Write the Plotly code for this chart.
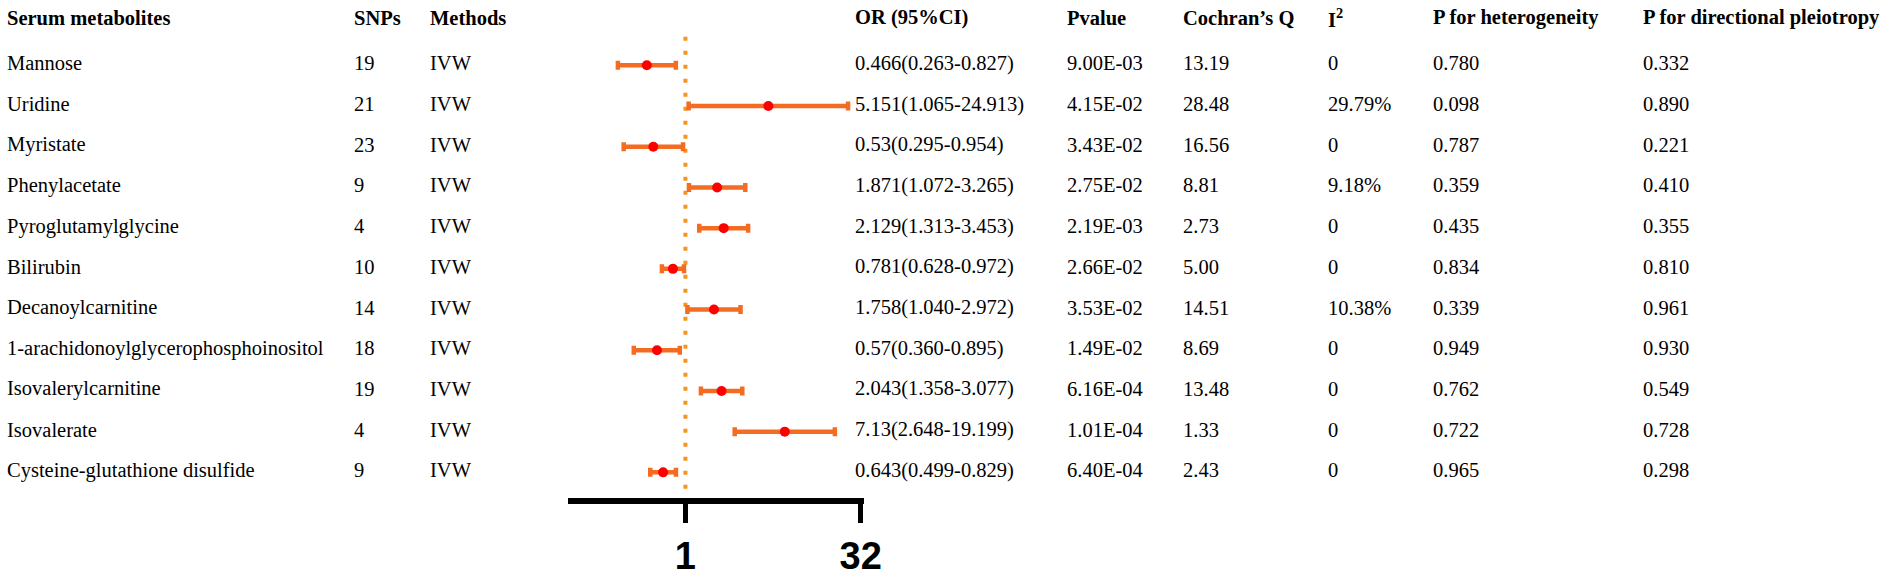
import plotly.graph_objects as go

# table data
metabolites = ["Mannose", "Uridine", "Myristate", "Phenylacetate", "Pyroglutamylglycine",
               "Bilirubin", "Decanoylcarnitine", "1-arachidonoylglycerophosphoinositol",
               "Isovalerylcarnitine", "Isovalerate", "Cysteine-glutathione disulfide"]
snps = [19, 21, 23, 9, 4, 10, 14, 18, 19, 4, 9]
methods = ["IVW"] * 11
or_val = [0.466, 5.151, 0.53, 1.871, 2.129, 0.781, 1.758, 0.57, 2.043, 7.13, 0.643]
ci_low = [0.263, 1.065, 0.295, 1.072, 1.313, 0.628, 1.040, 0.360, 1.358, 2.648, 0.499]
ci_high = [0.827, 24.913, 0.954, 3.265, 3.453, 0.972, 2.972, 0.895, 3.077, 19.199, 0.829]
or_labels = ["0.466(0.263-0.827)", "5.151(1.065-24.913)", "0.53(0.295-0.954)",
             "1.871(1.072-3.265)", "2.129(1.313-3.453)", "0.781(0.628-0.972)",
             "1.758(1.040-2.972)", "0.57(0.360-0.895)", "2.043(1.358-3.077)",
             "7.13(2.648-19.199)", "0.643(0.499-0.829)"]
pvalue = ["9.00E-03", "4.15E-02", "3.43E-02", "2.75E-02", "2.19E-03", "2.66E-02",
          "3.53E-02", "1.49E-02", "6.16E-04", "1.01E-04", "6.40E-04"]
cochran_q = ["13.19", "28.48", "16.56", "8.81", "2.73", "5.00", "14.51", "8.69", "13.48", "1.33", "2.43"]
i2 = ["0", "29.79%", "0", "9.18%", "0", "0", "10.38%", "0", "0", "0", "0"]
p_het = ["0.780", "0.098", "0.787", "0.359", "0.435", "0.834", "0.339", "0.949", "0.762", "0.722", "0.965"]
p_pleio = ["0.332", "0.890", "0.221", "0.410", "0.355", "0.810", "0.961", "0.930", "0.549", "0.728", "0.298"]

headers = ["Serum metabolites", "SNPs", "Methods", "OR (95%CI)", "Pvalue",
           "Cochran\u2019s Q", "I<sup>2</sup>", "P for heterogeneity", "P for directional pleiotropy"]
col_x = [5, 355, 432, 861, 1075, 1192, 1339, 1445, 1657]  # left edge of each column, px

W, H = 1902, 577
rows = list(range(len(metabolites)))

fig = go.Figure()

fig.add_trace(go.Scatter(
    x=or_val, y=rows, mode="markers",
    marker=dict(color="#FF0000", size=10),
    error_x=dict(type="data", symmetric=False,
                 array=[h - o for h, o in zip(ci_high, or_val)],
                 arrayminus=[o - l for o, l in zip(or_val, ci_low)],
                 color="#F36C21", thickness=4.5, width=4.5),
    showlegend=False,
))

# reference line at OR = 1
fig.add_shape(type="line", xref="x", yref="y", x0=1, x1=1, y0=-0.7, y1=10.4,
              line=dict(color="#F7941D", width=4, dash="4px,10px"), layer="below")

serif = "Liberation Serif, Times New Roman, serif"

for x, h in zip(col_x, headers):
    fig.add_annotation(x=x / W, xref="paper", y=-1.17, yref="y", text="<b>" + h + "</b>",
                       xanchor="left", yanchor="middle", showarrow=False,
                       font=dict(family=serif, size=20.5, color="black"))

columns = [metabolites, snps, methods, or_labels, pvalue, cochran_q, i2, p_het, p_pleio]
for x, col in zip(col_x, columns):
    for r, v in zip(rows, col):
        fig.add_annotation(x=x / W, xref="paper", y=r, yref="y", text=str(v),
                           xanchor="left", yanchor="middle", showarrow=False, yshift=2,
                           font=dict(family=serif, size=20.5, color="black"))

fig.update_xaxes(type="log", range=[-1.012, 1.531], domain=[573 / W, 872 / W],
                 showgrid=False, zeroline=False, showline=True, linewidth=6, linecolor="black",
                 ticks="outside", ticklen=19, tickwidth=5, tickcolor="black",
                 tickvals=[1, 32], ticktext=["<b>1</b>", "<b>32</b>"],
                 tickfont=dict(family="Liberation Sans Narrow, Arial Narrow, Liberation Sans, Arial",
                               size=38, color="black"))
fig.update_yaxes(range=[10.64, -1.605], domain=[(H - 509) / H, 1], visible=False)

fig.update_layout(width=W, height=H, margin=dict(l=0, r=0, t=0, b=0),
                  plot_bgcolor="white", paper_bgcolor="white")

# page has a default body margin; drop it so the figure fills the window
fig.write_html("out.html", config={"displayModeBar": False},
               post_script="document.body.style.margin='0px';")
